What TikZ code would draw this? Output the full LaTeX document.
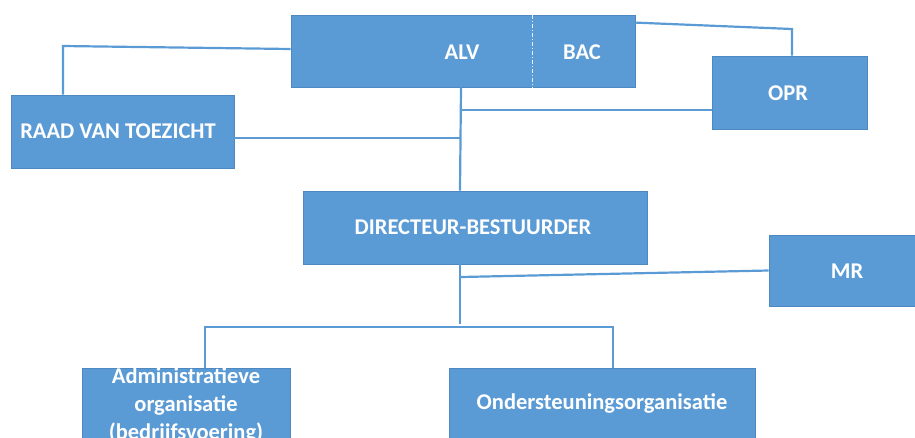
\documentclass[tikz,border=0pt]{standalone}
\usepackage{fontspec}
\setmainfont{Carlito}
\definecolor{boxblue}{HTML}{5B9BD5}
\definecolor{boxedge}{HTML}{4E88C0}
\tikzset{
  orgbox/.style={draw=boxedge, fill=boxblue, line width=0.8pt, inner sep=0pt},
  lbl/.style={text=white, font=\bfseries\fontsize{22.5}{28}\selectfont, align=center, inner sep=0pt},
  link/.style={draw=boxblue, line width=2.2pt},
}
\begin{document}
\begin{tikzpicture}[x=1pt,y=-1pt]
\useasboundingbox (0,0) rectangle (915,437);
\clip (0,0) rectangle (915,437);
\coordinate (spinetop) at (461,87);
\coordinate (j1) at (63,46);
\coordinate (j2) at (792,29);
\coordinate (j5) at (461,277);
\coordinate (j4) at (460,324);
\coordinate (hl) at (205,327);
\coordinate (hr) at (613,327);
% boxes
\node[orgbox, minimum width=344pt, minimum height=72pt] (alv) at (463,51) {};
\node[orgbox, minimum width=223pt, minimum height=73pt] (rvt) at (122.5,131.5) {};
\node[orgbox, minimum width=155pt, minimum height=73pt] (opr) at (789.5,92.5) {};
\node[orgbox, minimum width=344pt, minimum height=73pt] (dir) at (475,227.5) {};
\node[orgbox, minimum width=156pt, minimum height=71pt] (mr) at (847,270.5) {};
\node[orgbox, minimum width=208pt, minimum height=73pt] (adm) at (186,404.5) {};
\node[orgbox, minimum width=306pt, minimum height=73pt] (ond) at (602,404.5) {};
% dashed divider inside ALV/BAC
\draw[white!85!boxblue, line width=0.8pt, dash pattern=on 4pt off 2pt on 1pt off 2pt] (alv.north -| 532,0) -- (alv.south -| 532,0);
% labels
\node[lbl] (alvt) at (462,52) {ALV};
\node[lbl] (bact) at (582,52) {BAC};
\node[lbl] (rvtt) at (118,131) {RAAD VAN TOEZICHT};
\node[lbl] (oprt) at (788,93) {OPR};
\node[lbl] (dirt) at (473,227) {DIRECTEUR-BESTUURDER};
\node[lbl] (mrt) at (847,271) {MR};
\node[lbl] (ondt) at (602,403) {Ondersteuningsorganisatie};
\node[lbl] (admt) at (186,405) {Administratieve\\organisatie\\(bedrijfsvoering)};
% connectors
\draw[link] ([yshift=2pt]alv.west) -- (j1) -- (rvt.north -| j1);
\draw[link] ([yshift=-8pt]alv.north east) -- (j2) -- (opr.north -| j2);
\draw[link] (alv.south -| spinetop) -- ([xshift=-15pt]dir.north);
\draw[link] ([yshift=-6.5pt]rvt.east) coordinate (a) -- (a -| spinetop);
\draw[link] ([yshift=-17.5pt]opr.west) coordinate (b) -- (b -| spinetop);
\draw[link] (mr.west) -- (j5);
\draw[link] ([xshift=-15pt]dir.south) -- (j4);
\draw[link] (adm.north -| hl) -- (hl) -- (hr) -- (ond.north -| hr);
\end{tikzpicture}
\end{document}
